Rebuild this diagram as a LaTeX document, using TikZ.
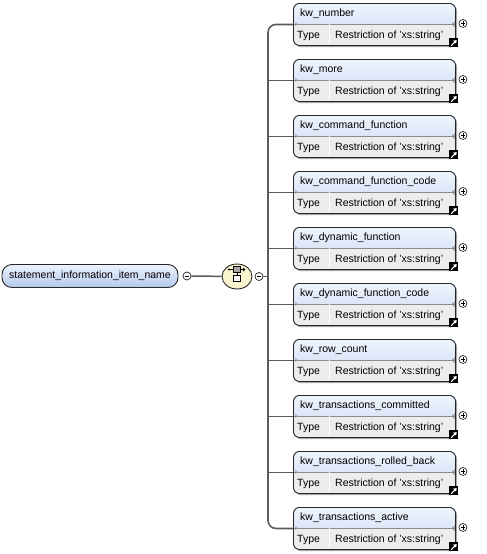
\documentclass[tikz,border=0pt]{standalone}
\usepackage{fontspec}
\setmainfont{Liberation Sans}
\usetikzlibrary{calc,shapes.geometric,arrows.meta}

\definecolor{headtop}{HTML}{F0F5FD}
\definecolor{headbot}{HTML}{C3D5F1}
\definecolor{typegray}{HTML}{ECECEC}
\definecolor{roottop}{HTML}{EEF3FC}
\definecolor{rootbot}{HTML}{B3C8EE}
\definecolor{seqfill}{HTML}{FBF5CF}
\definecolor{wirecol}{HTML}{5C5C5C}
\definecolor{shadowcol}{HTML}{A6A6A6}

\newcommand*{\boxleft}{293}
\newcommand*{\boxtop}{3}
\newcommand*{\boxgap}{56}
\newcommand*{\spinex}{268}

\begin{document}
\begin{tikzpicture}
[
	x=1pt, y=-1pt,
	font=\fontsize{10.5}{12}\selectfont,
	elembox/.style={rectangle,rounded corners=6pt,draw=black!85,line width=0.9pt,
		minimum width=162pt,minimum height=42pt,inner sep=0pt,
		path picture={
			\fill[top color=headtop,bottom color=headbot] (path picture bounding box.north west) rectangle (path picture bounding box.east);
			\fill[typegray] (path picture bounding box.west) rectangle (path picture bounding box.south east);
			\draw[black!45] (path picture bounding box.west) -- (path picture bounding box.east);
			\draw[white] ($(path picture bounding box.west)+(36,0)$) -- ($(path picture bounding box.south west)+(36,0)$);
		}},
	shadowbox/.style={rectangle,rounded corners=6pt,fill=shadowcol,
		minimum width=162pt,minimum height=42pt,inner sep=0pt},
	rootbox/.style={rectangle,rounded corners=10pt,draw=black!85,line width=0.9pt,
		top color=roottop,bottom color=rootbot,
		minimum width=176pt,minimum height=23pt,inner sep=0pt},
	pm/.style={circle,draw=black!85,fill=white,line width=0.7pt,minimum size=8pt,inner sep=0pt},
	seqnode/.style={ellipse,draw=black!85,fill=seqfill,line width=0.9pt,
		minimum width=30pt,minimum height=25pt,inner sep=0pt},
	linkicon/.style={rectangle,fill=black,minimum size=9pt,inner sep=0pt},
	spine/.style={draw=wirecol,line width=1.6pt,rounded corners=8pt},
	branch/.style={draw=wirecol,line width=1.5pt}
]

	\useasboundingbox (0,0) rectangle (487,554);

	% elements
	\foreach \name [count=\i from 0] in {kw\_number,kw\_more,kw\_command\_function,kw\_command\_function\_code,kw\_dynamic\_function,kw\_dynamic\_function\_code,kw\_row\_count,kw\_transactions\_committed,kw\_transactions\_rolled\_back,kw\_transactions\_active}
	{
		\pgfmathsetmacro{\ytop}{\boxtop+\boxgap*\i}
		\node[shadowbox,anchor=north west] (sh\i) at (\boxleft+2,\ytop+2) {};
		\node[elembox,anchor=north west] (e\i) at (\boxleft,\ytop) {};
		\node[anchor=west,inner sep=0pt] (n\i) at ($(e\i.north west)+(7,10.5)$) {\name};
		\node[anchor=west,inner sep=0pt] (ty\i) at ($(e\i.south west)+(4,-10)$) {Type};
		\node[anchor=west,inner sep=0pt] (r\i) at ($(e\i.south west)+(42,-10)$) {Restriction of 'xs:string'};
		\node[pm] (plus\i) at ($(e\i.east)+(7,-1)$) {};
		\draw[line width=0.7pt] ($(plus\i.center)+(-2.2,0)$) -- ($(plus\i.center)+(2.2,0)$)
			($(plus\i.center)+(0,-2.2)$) -- ($(plus\i.center)+(0,2.2)$);
		\node[linkicon] (lk\i) at ($(e\i.south east)+(-2,-3)$) {};
		\draw[white,line width=1pt,-{Triangle[length=3pt,width=4pt]}] ($(lk\i.center)+(-2.8,2.8)$) -- ($(lk\i.center)+(2.8,-2.8)$);
	}

	% root and sequence
	\node[rootbox] (root) at (90,276) {statement\_information\_item\_name};
	\node[pm] (rootminus) at (187,276) {};
	\draw[line width=0.7pt] ($(rootminus.center)+(-2.2,0)$) -- ($(rootminus.center)+(2.2,0)$);

	\node[seqnode] (seq) at (237,276.5) {};
	\draw[line width=0.8pt] ($(seq.center)+(-8,-7)$) -- ($(seq.center)+(8,-7)$);
	\fill ($(seq.center)+(-8,-7)$) circle (1.2pt);
	\fill ($(seq.center)+(8.5,-7)$) -- ($(seq.center)+(6,-9)$) -- ($(seq.center)+(6,-5)$) -- cycle;
	\draw[fill=gray!70,line width=0.7pt] ($(seq.center)+(-3.5,-10)$) rectangle ($(seq.center)+(3.5,-4)$);
	\draw[line width=0.7pt] ($(seq.center)+(0,-4)$) -- ($(seq.center)+(0,-1)$);
	\draw[fill=white,line width=0.7pt] ($(seq.center)+(-3.5,-1)$) rectangle ($(seq.center)+(3.5,5)$);

	\node[pm] (seqminus) at (259,276.5) {};
	\draw[line width=0.7pt] ($(seqminus.center)+(-2.2,0)$) -- ($(seqminus.center)+(2.2,0)$);

	\coordinate (fork) at (\spinex,276.5);

	% connectors
	\draw[branch] (rootminus) -- (seq);
	\draw[branch] (seqminus) -- (fork);
	\draw[spine] (e0.west) -| (fork) |- (e9.west);
	\foreach \i in {1,...,8}
		\draw[branch] (fork |- e\i.west) -- (e\i.west);

\end{tikzpicture}
\end{document}
